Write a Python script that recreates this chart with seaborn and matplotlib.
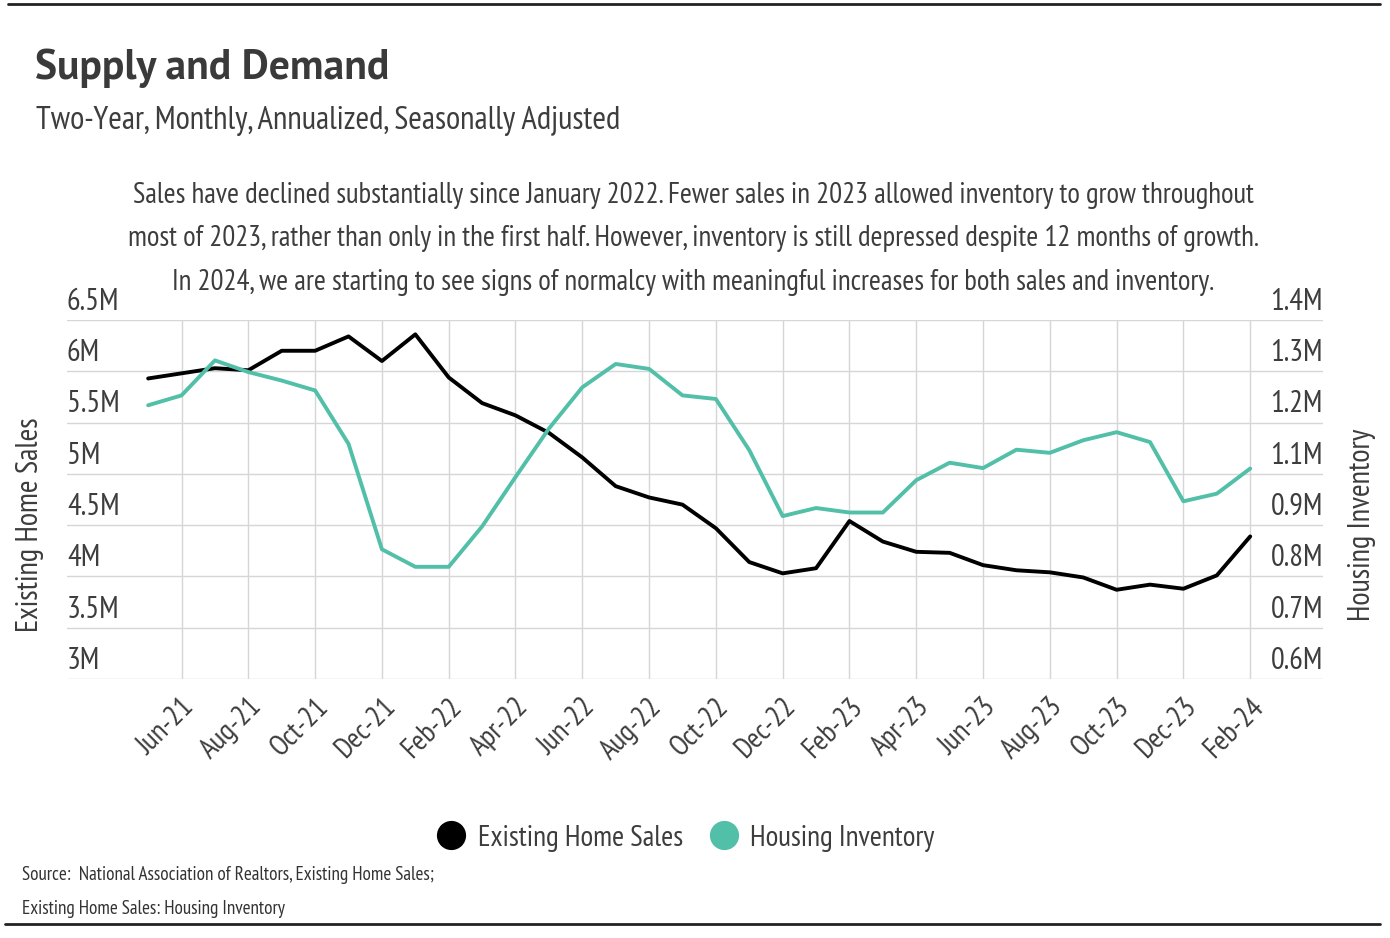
import numpy as np
import pandas as pd
import seaborn as sns
import matplotlib.pyplot as plt
import matplotlib.transforms as mtransforms
from matplotlib.lines import Line2D

months = ['May-21', 'Jun-21', 'Jul-21', 'Aug-21', 'Sep-21', 'Oct-21', 'Nov-21', 'Dec-21',
          'Jan-22', 'Feb-22', 'Mar-22', 'Apr-22', 'May-22', 'Jun-22', 'Jul-22', 'Aug-22',
          'Sep-22', 'Oct-22', 'Nov-22', 'Dec-22', 'Jan-23', 'Feb-23', 'Mar-23', 'Apr-23',
          'May-23', 'Jun-23', 'Jul-23', 'Aug-23', 'Sep-23', 'Oct-23', 'Nov-23', 'Dec-23',
          'Jan-24', 'Feb-24']
# existing home sales, millions (annualized)
sales = [5.93, 5.98, 6.03, 6.01, 6.20, 6.20, 6.34, 6.10, 6.36, 5.94, 5.69, 5.57,
         5.40, 5.16, 4.88, 4.77, 4.70, 4.47, 4.14, 4.03, 4.08, 4.54, 4.34, 4.24,
         4.23, 4.11, 4.06, 4.04, 3.99, 3.87, 3.92, 3.88, 4.01, 4.39]
# housing inventory, millions
inventory = [1.21, 1.232, 1.31, 1.284, 1.265, 1.243, 1.124, 0.889, 0.85, 0.85, 0.94, 1.05,
             1.158, 1.25, 1.302, 1.291, 1.232, 1.224, 1.11, 0.963, 0.981, 0.971, 0.971, 1.043,
             1.082, 1.07, 1.111, 1.104, 1.132, 1.15, 1.128, 0.996, 1.013, 1.069]
left_ticks = [3, 3.5, 4, 4.5, 5, 5.5, 6, 6.5]
right_ticks = list(np.linspace(0.6, 1.4, 8))

title = 'Supply and Demand'
subtitle = 'Two-Year, Monthly, Annualized, Seasonally Adjusted'
note = ('Sales have declined substantially since January 2022. Fewer sales in 2023 allowed inventory to grow throughout\n'
        'most of 2023, rather than only in the first half. However, inventory is still depressed despite 12 months of growth.\n'
        'In 2024, we are starting to see signs of normalcy with meaningful increases for both sales and inventory.')
source = ['Source:  National Association of Realtors, Existing Home Sales;',
          'Existing Home Sales: Housing Inventory']

df = pd.DataFrame({'month': months, 'sales': sales, 'inventory': inventory})
df['idx'] = np.arange(len(df))

sns.set_theme(style='white')
plt.rcParams['font.family'] = ['PT Sans Narrow', 'Barlow Semi Condensed', 'DejaVu Sans']

TEXT = '#3d3d3d'
TEAL = '#52bfa8'
GRID = '#d6d6d6'

fig = plt.figure(figsize=(13.9, 9.38), dpi=100)
ax = fig.add_axes([67 / 1390, 1 - 679 / 938, (1323 - 67) / 1390, (679 - 320) / 938])
ax2 = ax.twinx()

sns.lineplot(data=df, x='idx', y='sales', ax=ax, color='black', lw=2.8, legend=False)
sns.lineplot(data=df, x='idx', y='inventory', ax=ax2, color=TEAL, lw=2.8, legend=False)
for l in ax.lines + ax2.lines:
    l.set_solid_joinstyle('round')
    l.set_solid_capstyle('round')

ax.set_xlim(-2.43, 35.18)
ax.set_ylim(3, 6.5)
ax2.set_ylim(0.6, 1.4)

right = mtransforms.ScaledTranslation(9 / 100, 0, fig.dpi_scale_trans)
ax.set_xticks(df['idx'][1::2], df['month'][1::2])
ax.tick_params(axis='x', length=0, pad=17, labelsize=21, labelcolor=TEXT)
for lbl in ax.get_xticklabels():
    lbl.set_rotation(45)
    lbl.set_ha('right')
    lbl.set_va('center')
    lbl.set_rotation_mode('anchor')
    lbl.set_transform(lbl.get_transform() + right)

up = mtransforms.ScaledTranslation(0, 3 / 72, fig.dpi_scale_trans)
ax.set_yticks(left_ticks, [f'{v:g}M' for v in left_ticks])
ax.tick_params(axis='y', length=0, pad=0, labelsize=22, labelcolor=TEXT)
for lbl in ax.get_yticklabels():
    lbl.set_ha('left')
    lbl.set_va('bottom')
    lbl.set_transform(lbl.get_transform() + up)
ax2.set_yticks(right_ticks, [f'{v:.1f}M' for v in right_ticks])
ax2.tick_params(axis='y', length=0, pad=0, labelsize=22, labelcolor=TEXT)
for lbl in ax2.get_yticklabels():
    lbl.set_ha('right')
    lbl.set_va('bottom')
    lbl.set_transform(lbl.get_transform() + up)

ax.grid(True, color=GRID, lw=1)
ax2.grid(False)
for a in (ax, ax2):
    for s in a.spines.values():
        s.set_visible(False)
ax.set_xlabel('')
ax.set_ylabel('')
ax2.set_ylabel('')

fig.text(30 / 1390, 1 - 525 / 938, 'Existing Home Sales', rotation=90, ha='center', va='center',
         fontsize=22, color=TEXT)
fig.text(1362 / 1390, 1 - 525 / 938, 'Housing Inventory', rotation=90, ha='center', va='center',
         fontsize=22, color=TEXT)

fig.text(35 / 1390, 1 - 68 / 938, title, ha='left', va='center', fontsize=30, fontweight='bold',
         color='#3a3a3a', family=['PT Sans', 'Barlow', 'Lato'])
fig.text(36 / 1390, 1 - 121 / 938, subtitle, ha='left', va='center', fontsize=23.6, color=TEXT)
fig.text(693 / 1390, 1 - 239 / 938, note, ha='center', va='center', fontsize=20.7, color=TEXT,
         linespacing=1.8)

handles = [Line2D([], [], ls='', marker='o', ms=20, color='black'),
           Line2D([], [], ls='', marker='o', ms=20, color=TEAL)]
fig.legend(handles, ['Existing Home Sales', 'Housing Inventory'], loc='center',
           bbox_to_anchor=(684 / 1390, 1 - 838 / 938), ncol=2, frameon=False, fontsize=21,
           labelcolor=TEXT, handletextpad=0.3, columnspacing=0.8, handlelength=1.2)

fig.text(22 / 1390, 1 - 875 / 938, source[0], ha='left', va='center', fontsize=13.8, color='#333333')
fig.text(22 / 1390, 1 - 909 / 938, source[1], ha='left', va='center', fontsize=13.8, color='#333333')

fig.add_artist(Line2D([8 / 1390, 1380 / 1390], [1 - 4 / 938, 1 - 4 / 938], color='#222222', lw=2))
fig.add_artist(Line2D([5 / 1390, 1380 / 1390], [1 - 924 / 938, 1 - 924 / 938], color='#222222', lw=2))

fig.savefig('out.png', dpi=100, facecolor='white')
